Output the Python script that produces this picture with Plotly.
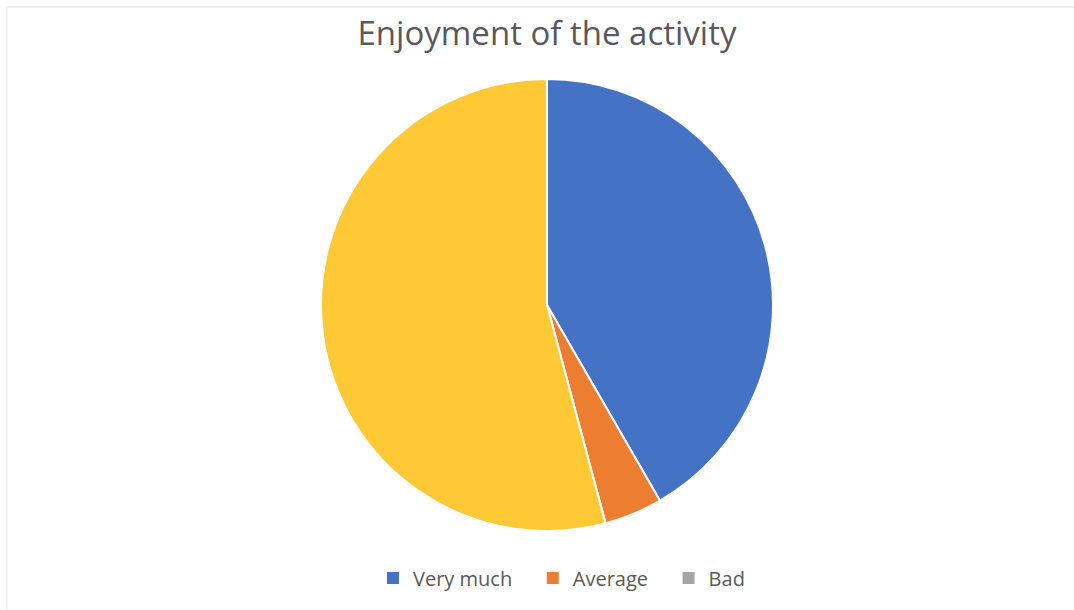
import plotly.graph_objects as go

labels = ["Very much", "Average", "Bad", "Other"]
values = [10, 1, 0, 13]
colors = ["#4472C4", "#ED7D31", "#A5A5A5", "#FFC935"]
legend_labels = ["Very much", "Average", "Bad"]

W, H = 1074, 610
cx, cy, r = 547, 305, 226
pad = "\u00a0\u00a0\u00a0"

fig = go.Figure()
fig.add_trace(go.Pie(
    labels=labels, values=values, sort=False, direction="clockwise", rotation=0,
    marker=dict(colors=colors, line=dict(color="white", width=2)),
    textinfo="none", hoverinfo="label+value+percent", showlegend=False,
    domain=dict(x=[(cx - r) / W, (cx + r) / W], y=[(H - cy - r) / H, (H - cy + r) / H]),
))
for i, (name, col) in enumerate(zip(legend_labels, colors)):
    fig.add_trace(go.Scatter(
        x=[None], y=[None], mode="markers",
        name=name + (pad if i < len(legend_labels) - 1 else ""),
        marker=dict(symbol="square", size=13, color=col),
    ))

fig.update_layout(
    width=W, height=H,
    margin=dict(l=0, r=0, t=0, b=0),
    paper_bgcolor="white", plot_bgcolor="white",
    title=dict(text="Enjoyment of the activity", x=cx / W, xanchor="center",
               y=1 - 33 / H, yanchor="middle",
               font=dict(family="Open Sans", size=33, color="#595959")),
    legend=dict(orientation="h", x=(388 - 15) / W, xanchor="left", y=1 - 578 / H, yanchor="middle",
                font=dict(family="Open Sans", size=20, color="#595959"),
                itemsizing="constant", itemwidth=30, tracegroupgap=0),
    xaxis=dict(visible=False), yaxis=dict(visible=False),
    shapes=[
        dict(type="line", xref="paper", yref="paper", x0=6 / W, x1=1, y0=1 - 7 / H, y1=1 - 7 / H,
             line=dict(color="#EFEFEF", width=2)),
        dict(type="line", xref="paper", yref="paper", x0=7 / W, x1=7 / W, y0=0, y1=1 - 7 / H,
             line=dict(color="#F2F2F2", width=2)),
    ],
)
fig.write_html("out.html", config={"displayModeBar": False},
               post_script="document.body.style.margin='0';document.body.style.overflow='hidden';")
